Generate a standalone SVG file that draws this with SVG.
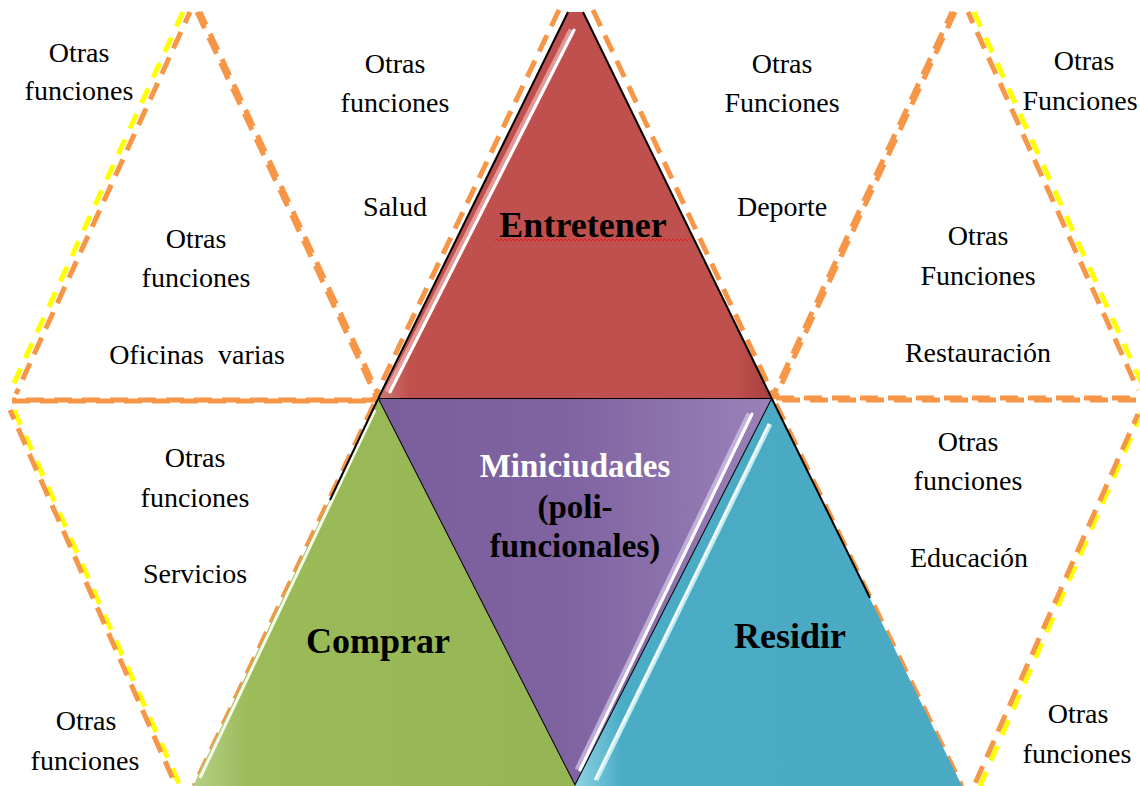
<svg xmlns="http://www.w3.org/2000/svg" width="1140" height="786" viewBox="0 0 1140 786">
<defs>
<style>
.t{font-family:"Liberation Serif","Times New Roman",serif;font-size:28px;text-anchor:middle;fill:#000}
.b{font-family:"Liberation Serif","Times New Roman",serif;font-weight:bold;text-anchor:middle;fill:#000}
.or{stroke:#F79646;stroke-width:5;stroke-dasharray:18 10;fill:none}
.ye{stroke:#FFFF00;stroke-width:5;stroke-dasharray:16 12;fill:none}
.edge{stroke:#000;stroke-width:2;fill:none}
.hl{stroke:#fff;stroke-width:3;fill:none;stroke-linecap:round}
</style>
<linearGradient id="gRed" x1="0" y1="0" x2="1" y2="0">
<stop offset="0" stop-color="#D07A78"/><stop offset="0.08" stop-color="#C0504D"/><stop offset="0.9" stop-color="#C0504D"/><stop offset="1" stop-color="#A8403E"/>
</linearGradient>
<linearGradient id="gPur" x1="0" y1="0" x2="1" y2="0">
<stop offset="0" stop-color="#7A5E9C"/><stop offset="0.5" stop-color="#8064A2"/><stop offset="1" stop-color="#9A82B8"/>
</linearGradient>
<linearGradient id="gGrn" x1="0" y1="0" x2="1" y2="0">
<stop offset="0" stop-color="#B5CF86"/><stop offset="0.15" stop-color="#9BBB59"/><stop offset="1" stop-color="#96B655"/>
</linearGradient>
<linearGradient id="gBlu" x1="0" y1="0" x2="1" y2="0">
<stop offset="0" stop-color="#8FD3E3"/><stop offset="0.12" stop-color="#4BACC6"/><stop offset="1" stop-color="#4AA9C3"/>
</linearGradient>
</defs>
<rect width="1140" height="786" fill="#fff"/>

<g id="connectors">
<line class="ye" x1="183" y1="12" x2="10" y2="392"/>
<line class="or" x1="190" y1="12" x2="16" y2="394" stroke-dashoffset="6"/>
<line class="or" x1="197" y1="12" x2="376" y2="396"/>
<line class="or" x1="200" y1="12" x2="379" y2="396" stroke-dashoffset="4" stroke-width="3"/>
<line class="or" x1="12" y1="401" x2="376" y2="401" stroke-dasharray="22 12"/>
<line class="or" x1="12" y1="400" x2="376" y2="400" stroke-dasharray="22 12" stroke-dashoffset="-14" stroke-width="2"/>
<line class="ye" x1="14" y1="410" x2="180" y2="786"/>
<line class="or" x1="10" y1="410" x2="176" y2="786" stroke-dashoffset="8"/>
<line class="or" x1="374" y1="404" x2="194" y2="786"/>
<line class="or" x1="559" y1="10" x2="374" y2="399"/>
<line class="or" x1="593" y1="10" x2="775" y2="399"/>
<line class="or" x1="955" y1="12" x2="776" y2="396"/>
<line class="or" x1="952" y1="12" x2="773" y2="396" stroke-dashoffset="5" stroke-width="3"/>
<line class="ye" x1="974" y1="12" x2="1142" y2="384"/>
<line class="or" x1="968" y1="12" x2="1138" y2="390" stroke-dashoffset="6"/>
<line class="or" x1="776" y1="398" x2="1140" y2="398" stroke-dasharray="22 12"/>
<line class="or" x1="776" y1="400" x2="1140" y2="400" stroke-dasharray="22 12" stroke-dashoffset="-6" stroke-width="3"/>
<line class="or" x1="776" y1="404" x2="962" y2="786"/>
<line class="ye" x1="1142" y1="412" x2="980" y2="786"/>
<line class="or" x1="1138" y1="414" x2="974" y2="786" stroke-dashoffset="7"/>
</g>

<g id="entretener">
<polygon points="568,12 583,12 772,399 378,399" fill="url(#gRed)"/>
<line x1="572" y1="30" x2="388" y2="392" stroke="#F0B8B6" stroke-width="7" opacity="0.7"/>
<line class="hl" x1="574" y1="30" x2="390" y2="392"/>
<line class="edge" x1="583" y1="12" x2="772" y2="399"/>
<line class="edge" x1="568" y1="12" x2="378" y2="399" stroke-width="1.5"/>
<line class="edge" x1="378" y1="399" x2="772" y2="399"/>
<text class="b" x="583" y="237" font-size="36">Entretener</text>
<path d="M495,241 l2,-2 l2,2 l2,-2 l2,2 l2,-2 l2,2 l2,-2 l2,2 l2,-2 l2,2 l2,-2 l2,2 l2,-2 l2,2 l2,-2 l2,2 l2,-2 l2,2 l2,-2 l2,2 l2,-2 l2,2 l2,-2 l2,2 l2,-2 l2,2 l2,-2 l2,2 l2,-2 l2,2 l2,-2 l2,2 l2,-2 l2,2 l2,-2 l2,2 l2,-2 l2,2 l2,-2 l2,2 l2,-2 l2,2 l2,-2 l2,2 l2,-2 l2,2 l2,-2 l2,2 l2,-2 l2,2 l2,-2 l2,2 l2,-2 l2,2 l2,-2 l2,2 l2,-2 l2,2 l2,-2 l2,2 l2,-2 l2,2 l2,-2 l2,2 l2,-2 l2,2 l2,-2 l2,2 l2,-2 l2,2 l2,-2 l2,2 l2,-2 l2,2 l2,-2 l2,2 l2,-2 l2,2 l2,-2 l2,2 l2,-2 l2,2 l2,-2 l2,2 l2,-2 l2,2 l2,-2 l2,2 l2,-2 l2,2 l2,-2 l2,2 l2,-2 l2,2 l2,-2 l2,2 l2,-2" stroke="#E02020" stroke-width="1" fill="none"/>
</g>

<g id="miniciudades">
<polygon points="378,399 772,399 575,786" fill="url(#gPur)"/>
<line x1="750" y1="414" x2="578" y2="770" stroke="#D8C8EE" stroke-width="7" opacity="0.7"/>
<line class="hl" x1="752" y1="414" x2="580" y2="770"/>
<line class="edge" x1="378" y1="399" x2="575" y2="786"/>
<line class="edge" x1="772" y1="399" x2="575" y2="786"/>
<text class="b" x="575" y="477" font-size="33" style="fill:#fff">Miniciudades</text>
<text class="b" x="575" y="518" font-size="33">(poli-</text>
<text class="b" x="575" y="557" font-size="33">funcionales)</text>
</g>

<g id="comprar">
<polygon points="378,399 575,786 193,786" fill="url(#gGrn)"/>
<line x1="375" y1="410" x2="200" y2="778" stroke="#F4FBE8" stroke-width="3"/>
<line class="edge" x1="378" y1="399" x2="330" y2="500" stroke-width="1"/>
<text class="b" x="378" y="653" font-size="36">Comprar</text>
</g>

<g id="residir">
<polygon points="772,399 962,786 575,786" fill="url(#gBlu)"/>
<line x1="770" y1="424" x2="596" y2="780" stroke="#C8F4FA" stroke-width="5" opacity="0.9"/>
<line x1="769" y1="424" x2="595" y2="780" stroke="#fff" stroke-width="2"/>
<line class="edge" x1="772" y1="399" x2="870" y2="598"/>
<text class="b" x="790" y="648" font-size="36">Residir</text>
</g>

<g id="sup-izq">
<text class="t" x="79" y="62">Otras</text>
<text class="t" x="79" y="100">funciones</text>
<text class="t" x="196" y="248">Otras</text>
<text class="t" x="196" y="287">funciones</text>
<text class="t" x="197" y="364" xml:space="preserve">Oficinas  varias</text>
</g>

<g id="sup-centro">
<text class="t" x="395" y="73">Otras</text>
<text class="t" x="395" y="112">funciones</text>
<text class="t" x="395" y="216">Salud</text>
<text class="t" x="782" y="73">Otras</text>
<text class="t" x="782" y="112">Funciones</text>
<text class="t" x="782" y="216">Deporte</text>
</g>

<g id="sup-der">
<text class="t" x="1084" y="70">Otras</text>
<text class="t" x="1080" y="110">Funciones</text>
<text class="t" x="978" y="245">Otras</text>
<text class="t" x="978" y="285">Funciones</text>
<text class="t" x="978" y="362">Restauración</text>
</g>

<g id="inf-izq">
<text class="t" x="195" y="467">Otras</text>
<text class="t" x="195" y="507">funciones</text>
<text class="t" x="195" y="583">Servicios</text>
<text class="t" x="86" y="730">Otras</text>
<text class="t" x="85" y="770">funciones</text>
</g>

<g id="inf-der">
<text class="t" x="968" y="451">Otras</text>
<text class="t" x="968" y="490">funciones</text>
<text class="t" x="969" y="567">Educación</text>
<text class="t" x="1078" y="723">Otras</text>
<text class="t" x="1077" y="763">funciones</text>
</g>
</svg>
